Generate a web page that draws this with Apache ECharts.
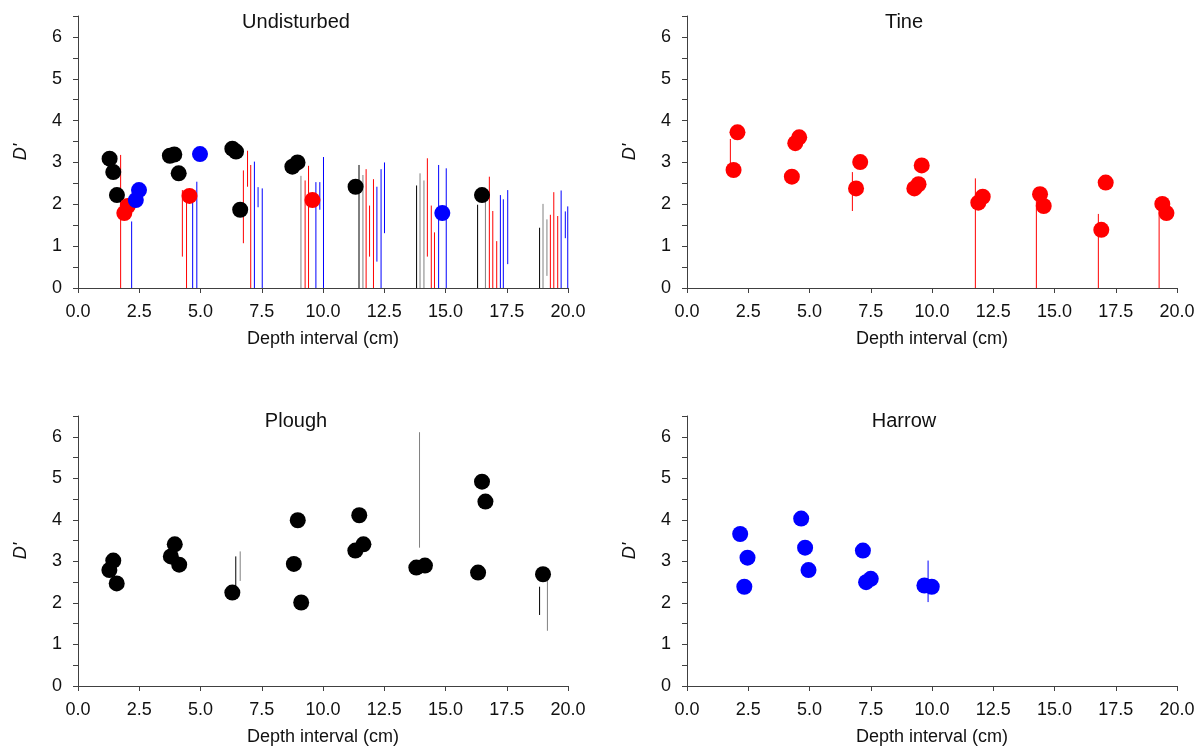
<!DOCTYPE html>
<html>
<head>
<meta charset="utf-8">
<script src="https://cdn.jsdelivr.net/npm/echarts@6/dist/echarts.min.js"></script>
<style>
html,body{margin:0;padding:0;background:#fff;}
#chart{width:1199px;height:747px;}
</style>
</head>
<body>
<div id="chart"></div>
<script>
// ---------- data ----------
var panelTitles = ['Undisturbed', 'Tine', 'Plough', 'Harrow'];
var xTickLabels = ['0.0','2.5','5.0','7.5','10.0','12.5','15.0','17.5','20.0'];
var yTickLabels = ['0','1','2','3','4','5','6'];

// Undisturbed points [depth, D']
var undistBlack = [[1.29,3.09],[1.44,2.77],[1.59,2.22],[3.75,3.16],[3.93,3.19],[4.11,2.74],[6.30,3.33],[6.45,3.26],[6.62,1.87],[8.75,2.90],[8.96,3.00],[11.33,2.42],[16.49,2.22]];
var undistRed = [[1.89,1.79],[2.03,1.96],[4.55,2.20],[9.57,2.10]];
var undistBlue = [[2.36,2.10],[2.49,2.34],[4.98,3.20],[14.87,1.79]];
// Undisturbed error bars [depth, low, high]
var undistBarsBlack = [[11.47,0,2.94],[13.82,0,2.45],[16.31,0,1.99],[18.84,0,1.44]];
var undistBarsGray = [[9.10,0,2.68],[11.63,0,2.70],[13.96,0,2.74],[14.12,0,2.57],[16.63,0,2.14],[18.98,0,2.01],[19.14,0.29,1.64]];
var undistBarsRed = [[1.74,0,3.18],[4.26,0.75,2.34],[4.43,0,2.20],[6.75,1.07,2.81],[6.92,2.42,3.28],[7.05,0,2.94],[9.27,0,2.57],[9.41,0,2.92],[11.76,0,2.84],[11.90,0.75,1.97],[12.06,0,2.60],[14.26,0.75,3.10],[14.42,0,1.97],[14.55,0,1.33],[16.79,0,2.66],[16.93,0,1.84],[17.09,0,1.12],[19.28,0,1.75],[19.42,0,2.29],[19.58,0,1.72]];
var undistBarsBlue = [[2.19,0,1.59],[4.68,0,2.10],[4.85,0,2.54],[7.20,0,3.02],[7.35,1.93,2.41],[7.52,0,2.38],[9.71,0,2.53],[9.87,1.87,2.53],[10.02,0,3.13],[12.20,0.63,2.42],[12.37,0,2.84],[12.51,1.31,3.00],[14.72,0,2.94],[15.03,0,2.86],[17.24,0,2.22],[17.36,0,2.12],[17.54,0.57,2.34],[19.72,0,2.33],[19.89,1.19,1.83],[19.99,0,1.95]];

// Tine
var tinePts = [[1.90,2.82],[2.06,3.72],[4.28,2.66],[4.42,3.46],[4.58,3.60],[6.90,2.38],[7.07,3.01],[9.28,2.38],[9.45,2.48],[9.58,2.93],[11.89,2.04],[12.07,2.18],[14.41,2.24],[14.56,1.96],[16.91,1.39],[17.09,2.52],[19.40,2.01],[19.57,1.79]];
var tineBars = [[1.77,2.90,3.56],[6.75,1.84,2.77],[11.77,0,2.62],[14.26,0,2.41],[16.79,0,1.77],[19.27,0,1.87]];

// Plough
var ploughPts = [[1.28,2.79],[1.44,3.02],[1.58,2.47],[3.79,3.12],[3.95,3.41],[4.13,2.92],[6.30,2.25],[8.81,2.94],[8.97,3.99],[9.11,2.01],[11.32,3.26],[11.48,4.11],[11.65,3.41],[13.81,2.85],[14.16,2.90],[16.33,2.73],[16.49,4.92],[16.63,4.44],[18.98,2.69]];
var ploughBarsBlack = [[6.44,2.30,3.12],[18.84,1.71,2.39]];
var ploughBarsGray = [[6.62,2.53,3.24],[13.94,3.33,6.11],[19.16,1.33,2.65]];

// Harrow
var harrowPts = [[2.17,3.66],[2.34,2.39],[2.47,3.09],[4.66,4.03],[4.82,3.33],[4.96,2.79],[7.18,3.26],[7.31,2.50],[7.50,2.58],[9.69,2.42],[9.99,2.39]];
var harrowBars = [[9.84,2.02,3.02]];

// ---------- chart ----------
var FONT = 'Liberation Sans, Arial, sans-serif';
var AXIS_COLOR = '#404040';
var TEXT_COLOR = '#111';

var grids = [
  {left:78, top:16, width:490, height:272},
  {left:687, top:16, width:490, height:272},
  {left:78, top:416, width:490, height:271},
  {left:687, top:416, width:490, height:271}
];
var titlePos = [[296,12],[904,12],[296,411],[904,411]];

function xAxis(i){
  return {
    type:'value', gridIndex:i, min:0, max:20, interval:2.5,
    name:'Depth interval (cm)', nameLocation:'middle', nameGap:42,
    nameTextStyle:{fontFamily:FONT, fontSize:18, color:TEXT_COLOR},
    axisLine:{show:true, onZero:false, lineStyle:{color:AXIS_COLOR, width:1}},
    axisTick:{show:true, length:5, lineStyle:{color:AXIS_COLOR}},
    splitLine:{show:false},
    axisLabel:{fontFamily:FONT, fontSize:18, color:TEXT_COLOR, margin:15,
      formatter:function(v){ var idx = Math.round(v/2.5); return xTickLabels[idx] || ''; }}
  };
}
function yAxis(i){
  return {
    type:'value', gridIndex:i, min:0, max:6.5, interval:0.5,
    name:"D'", nameLocation:'middle', nameGap:48, nameRotate:90,
    nameTextStyle:{fontFamily:FONT, fontSize:18, fontStyle:'italic', color:TEXT_COLOR},
    axisLine:{show:true, onZero:false, lineStyle:{color:AXIS_COLOR, width:1}},
    axisTick:{show:true, length:5, lineStyle:{color:AXIS_COLOR}},
    splitLine:{show:false},
    axisLabel:{fontFamily:FONT, fontSize:18, color:TEXT_COLOR, margin:16,
      formatter:function(v){ return (Math.abs(v - Math.round(v)) < 1e-6) ? (yTickLabels[Math.round(v)] || '') : ''; }}
  };
}

function barSeries(i, data, color){
  return {
    type:'custom', xAxisIndex:i, yAxisIndex:i, z:1, silent:true,
    data:data,
    encode:{x:0, y:[1,2]},
    renderItem:function(params, api){
      var p1 = api.coord([api.value(0), api.value(1)]);
      var p2 = api.coord([api.value(0), api.value(2)]);
      return {type:'line', shape:{x1:p1[0], y1:p1[1], x2:p2[0], y2:p2[1]},
        style:{stroke:color, lineWidth:1}};
    }
  };
}
function ptSeries(i, data, color){
  return {
    type:'scatter', xAxisIndex:i, yAxisIndex:i, z:3, silent:true,
    data:data, symbol:'circle', symbolSize:16,
    itemStyle:{color:color, opacity:1}
  };
}

var option = {
  backgroundColor:'#fff',
  animation:false,
  title: panelTitles.map(function(t, i){
    return {text:t, left:titlePos[i][0], top:titlePos[i][1], textAlign:'center', padding:0,
      textStyle:{fontFamily:FONT, fontSize:20, fontWeight:'normal', color:TEXT_COLOR}};
  }),
  grid: grids,
  xAxis: [0,1,2,3].map(xAxis),
  yAxis: [0,1,2,3].map(yAxis),
  series: [
    barSeries(0, undistBarsBlack, '#000000'),
    barSeries(0, undistBarsGray, '#808080'),
    barSeries(0, undistBarsRed, '#ff0000'),
    barSeries(0, undistBarsBlue, '#0000ff'),
    ptSeries(0, undistBlack, '#000000'),
    ptSeries(0, undistRed, '#ff0000'),
    ptSeries(0, undistBlue, '#0000ff'),
    barSeries(1, tineBars, '#ff0000'),
    ptSeries(1, tinePts, '#ff0000'),
    barSeries(2, ploughBarsBlack, '#000000'),
    barSeries(2, ploughBarsGray, '#808080'),
    ptSeries(2, ploughPts, '#000000'),
    barSeries(3, harrowBars, '#0000ff'),
    ptSeries(3, harrowPts, '#0000ff')
  ]
};

var chart = echarts.init(document.getElementById('chart'), null, {renderer:'canvas'});
chart.setOption(option);
</script>
</body>
</html>
